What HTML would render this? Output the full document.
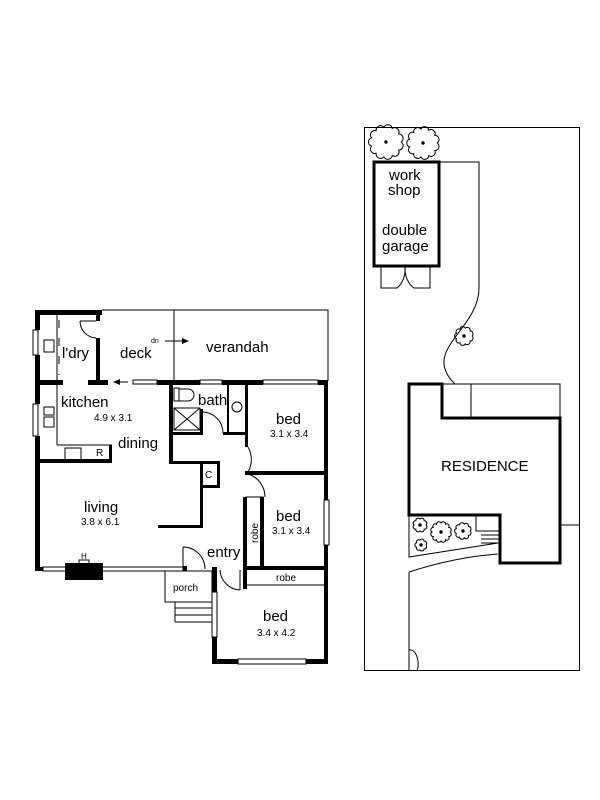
<!DOCTYPE html>
<html><head><meta charset="utf-8"><style>
html,body{margin:0;padding:0;background:#fff;}
svg{display:block;}
text{font-family:"Liberation Sans",Arial,sans-serif;fill:#000;}
</style></head><body>
<svg id="s" width="600" height="800" viewBox="0 0 600 800" xmlns="http://www.w3.org/2000/svg">
<g fill="none" stroke="#000" stroke-width="1">
<polyline points="102,310 328,310 328,381"/>
<line x1="174" y1="310" x2="174" y2="381"/>
<line x1="57" y1="315" x2="57" y2="381"/>
<line x1="57" y1="385" x2="57" y2="445"/>
<line x1="57" y1="445" x2="112" y2="445"/>
<line x1="59" y1="320" x2="59" y2="375" stroke-dasharray="8,10"/>
<line x1="80" y1="321" x2="96" y2="321"/>
<path d="M80,321 A17,17 0 0 0 96,338"/>
<line x1="202" y1="412" x2="204" y2="412"/>
<path d="M202,412 A21,21 0 0 1 223,433"/>
<rect x="174" y="408" width="26" height="22"/>
<line x1="174" y1="408" x2="200" y2="430"/><line x1="200" y1="408" x2="174" y2="430"/>
<rect x="174" y="388" width="5" height="13"/>
<path d="M179,389 L188,389 A6,6 0 0 1 188,401 L179,401 Z"/>
<circle cx="237" cy="407" r="5"/>
<path d="M248,447 A25,25 0 0 1 248,472"/>
<path d="M248,474 A24,24 0 0 1 265,497"/>
<rect x="246" y="497" width="17" height="70"/>
<line x1="246" y1="585" x2="328" y2="585"/>
<rect x="165" y="571" width="47" height="31"/>
<line x1="175" y1="602" x2="175" y2="622"/>
<line x1="175" y1="608" x2="212" y2="608"/>
<line x1="175" y1="615" x2="212" y2="615"/>
<line x1="175" y1="622" x2="212" y2="622"/>
<line x1="183" y1="547" x2="183" y2="569"/>
<path d="M183,547 A22,22 0 0 1 205,569"/>
<path d="M220,570 A21,21 0 0 0 240,590"/>
<line x1="240" y1="570" x2="240" y2="590"/>
<rect x="33" y="330" width="5" height="25" fill="#fff"/>
<rect x="33" y="404" width="5" height="32" fill="#fff"/>
<rect x="43" y="567" width="140" height="4" fill="#fff"/>
<rect x="133" y="380" width="24" height="4" fill="#fff"/>
<rect x="200" y="380" width="22" height="4" fill="#fff"/>
<rect x="263" y="380" width="55" height="4" fill="#fff"/>
<rect x="324" y="500" width="5" height="45" fill="#fff"/>
<rect x="238" y="659" width="68" height="5" fill="#fff"/>
<rect x="212" y="592" width="5" height="45" fill="#fff"/>
<rect x="44" y="340" width="10" height="12"/>
<rect x="44" y="407" width="10" height="8"/>
<rect x="44" y="417" width="10" height="10"/>
<rect x="65" y="448" width="16" height="12"/>
</g>
<g fill="#000">
<rect x="35" y="310" width="67" height="5"/>
<rect x="35" y="310" width="5" height="20"/>
<rect x="35" y="355" width="5" height="49"/>
<rect x="35" y="436" width="5" height="131"/>
<rect x="96" y="310" width="4" height="11"/>
<rect x="96" y="338" width="4" height="45"/>
<rect x="35" y="380" width="28" height="5"/>
<rect x="88" y="380" width="20" height="5"/>
<rect x="157" y="380" width="43" height="5"/>
<rect x="222" y="380" width="41" height="5"/>
<rect x="318" y="380" width="10" height="5"/>
<rect x="35" y="459" width="77" height="4"/>
<rect x="109" y="445" width="3" height="18"/>
<rect x="35" y="567" width="8" height="4"/>
<rect x="183" y="566" width="4" height="5"/>
<rect x="169" y="383" width="4" height="81"/>
<rect x="169" y="432" width="33" height="3"/>
<rect x="223" y="432" width="22" height="3"/>
<rect x="200" y="409" width="3" height="26"/>
<rect x="227" y="383" width="2" height="50"/>
<rect x="245" y="383" width="3" height="64"/>
<rect x="169" y="461" width="51" height="3"/>
<rect x="200" y="461" width="3" height="67"/>
<rect x="217" y="461" width="3" height="26"/>
<rect x="200" y="485" width="20" height="3"/>
<rect x="158" y="525" width="45" height="3"/>
<rect x="245" y="471" width="83" height="4"/>
<rect x="243" y="497" width="4" height="92"/>
<rect x="260" y="497" width="4" height="70"/>
<rect x="243" y="566" width="85" height="4"/>
<rect x="324" y="380" width="4" height="120"/>
<rect x="324" y="545" width="4" height="118"/>
<rect x="212" y="567" width="5" height="25"/>
<rect x="212" y="637" width="5" height="26"/>
<rect x="212" y="659" width="26" height="5"/>
<rect x="306" y="659" width="22" height="5"/>
<rect x="65" y="563" width="38" height="17"/>
<rect x="79" y="560" width="10" height="4" fill="none" stroke="#000"/>
<polygon points="113,382 120,379 120,385"/>
<line x1="119" y1="382" x2="128" y2="382" stroke="#000"/>
<line x1="165" y1="341" x2="183" y2="341" stroke="#000"/>
<polygon points="189,341 182,338 182,344"/>
</g>
<g font-size="15">
<text x="62" y="358">l'dry</text>
<text x="120" y="358">deck</text>
<text x="206" y="352">verandah</text>
<text x="61" y="407">kitchen</text>
<text x="198" y="405">bath</text>
<text x="118" y="448">dining</text>
<text x="84" y="512">living</text>
<text x="276" y="424">bed</text>
<text x="276" y="521">bed</text>
<text x="207" y="557">entry</text>
<text x="263" y="621">bed</text>
<text x="441" y="471">RESIDENCE</text>
<text x="389" y="180">work</text><text x="388" y="195">shop</text>
<text x="382" y="235">double</text><text x="382" y="251">garage</text>
</g>
<g font-size="10">
<text x="94" y="421">4.9 x 3.1</text>
<text x="81" y="525">3.8 x 6.1</text>
<text x="270" y="437">3.1 x 3.4</text>
<text x="272" y="534">3.1 x 3.4</text>
<text x="257" y="636">3.4 x 4.2</text>
<text x="96" y="456">R</text>
<text x="205" y="478">C</text>
<text x="173" y="591">porch</text>
<text x="276" y="581">robe</text>
<text x="258" y="543" transform="rotate(-90 258 543)">robe</text>
<text x="81" y="559" font-size="8">H</text>
<text x="151" y="343" font-size="7">dn</text>
</g>
<g fill="none" stroke="#000" stroke-width="1">
<rect x="364.5" y="127.5" width="215" height="543"/>
<rect x="374" y="162" width="65" height="104" stroke-width="3"/>
<path d="M381,266 L381,288 L397,288 A16,22 0 0 0 405,266 A16,22 0 0 0 414,288 L430,288 L430,266"/>
<path d="M439,162 L479,162 L479,288 C479,330 420,350 455,384"/>
<path d="M442,384 L560,384 L560,418"/>
<rect x="442" y="384" width="29" height="34"/>
<path d="M409,515 L409,557 L498,543"/>
<path d="M409,572 C440,562 470,556 498,554"/>
<path d="M409,572 L409,671"/>
<path d="M409,650 A8,14 0 0 1 417,671"/>
<path d="M476,515 L476,531 L500,531"/>
<line x1="481" y1="535" x2="500" y2="535"/><line x1="481" y1="539" x2="500" y2="539"/><line x1="481" y1="543" x2="500" y2="543"/>
<line x1="560" y1="525" x2="580" y2="525"/>
<path d="M409,384 L442,384 L442,418 L560,418 L560,563 L500,563 L500,515 L409,515 Z" stroke-width="3"/>
</g>
<g id="trees" fill="none" stroke="#000" stroke-width="1"></g>
</svg>
<script>
var g=document.getElementById('trees');var out='';
[[386,142,15,11],[423,143,14,11],[464,336,8,9],[420,525,6,8],[441,532,9,12],[463,531,7,9],[421,545,5,7]].forEach(function(t){
var cx=t[0],cy=t[1],r=t[2],n=t[3],d='';
for(var i=0;i<n;i++){var a1=2*Math.PI*i/n,a2=2*Math.PI*(i+1)/n;
var x1=cx+r*Math.cos(a1),y1=cy+r*Math.sin(a1),x2=cx+r*Math.cos(a2),y2=cy+r*Math.sin(a2);
var rr=r*Math.sin(Math.PI/n)*1.05;
d+=(i==0?'M'+x1.toFixed(1)+','+y1.toFixed(1):'')+' A'+rr.toFixed(1)+','+rr.toFixed(1)+' 0 0 1 '+x2.toFixed(1)+','+y2.toFixed(1);}
out+='<path d="'+d+'"/><circle cx="'+cx+'" cy="'+cy+'" r="1.2" fill="#000"/>';});
g.innerHTML=out;
</script>
</body></html>
